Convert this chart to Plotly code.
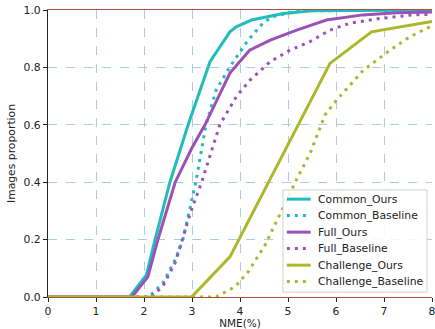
import plotly.graph_objects as go

# ---- data ----
common_ours_x = [0, 1.7, 2.05, 2.23, 2.54, 2.92, 3.375, 3.79, 3.93, 4.24, 4.9, 5.5, 8]
common_ours_y = [0, 0, 0.077, 0.2, 0.4, 0.6, 0.82, 0.924, 0.942, 0.965, 0.988, 0.997, 1.0]

common_base_x = [0, 2.1, 2.4, 2.65, 2.81, 3.08, 3.29, 3.5, 3.78, 4.17, 4.48, 4.67, 5.2, 8]
common_base_y = [0, 0, 0.05, 0.13, 0.2, 0.4, 0.6, 0.72, 0.8, 0.895, 0.955, 0.976, 0.997, 1.0]

full_ours_x = [0, 1.75, 2.08, 2.29, 2.65, 3.0, 3.27, 3.79, 4.2, 4.63, 5.18, 5.8, 6.56, 7.26, 8]
full_ours_y = [0, 0, 0.07, 0.2, 0.4, 0.52, 0.6, 0.78, 0.86, 0.895, 0.93, 0.965, 0.983, 0.99, 0.993]

full_base_x = [0, 2.16, 2.4, 2.65, 2.8, 2.96, 3.2, 3.58, 3.93, 4.21, 4.63, 5.04, 5.46, 5.875, 6.29, 6.9, 7.6, 8]
full_base_y = [0, 0, 0.04, 0.12, 0.2, 0.29, 0.4, 0.6, 0.70, 0.756, 0.82, 0.86, 0.89, 0.93, 0.954, 0.97, 0.983, 0.985]

chal_ours_x = [0, 2.99, 3.79, 5.875, 6.74, 8]
chal_ours_y = [0, 0, 0.14, 0.814, 0.924, 0.96]

chal_base_x = [0, 3.5, 3.9, 4.17, 4.52, 4.87, 5.18, 5.46, 5.77, 6.01, 6.57, 7.125, 7.54, 8]
chal_base_y = [0, 0, 0.036, 0.088, 0.18, 0.30, 0.41, 0.50, 0.634, 0.686, 0.79, 0.86, 0.907, 0.945]

x_ticks = [0, 1, 2, 3, 4, 5, 6, 7, 8]
y_ticks = [0.0, 0.2, 0.4, 0.6, 0.8, 1.0]
y_tick_labels = ["0.0", "0.2", "0.4", "0.6", "0.8", "1.0"]

TEAL = "#22bcbc"
PURPLE = "#9a52b8"
OLIVE = "#aab82a"
DOT = "3px,5px"

series = [
    ("Common_Ours", common_ours_x, common_ours_y, TEAL, "solid"),
    ("Common_Baseline", common_base_x, common_base_y, TEAL, DOT),
    ("Full_Ours", full_ours_x, full_ours_y, PURPLE, "solid"),
    ("Full_Baseline", full_base_x, full_base_y, PURPLE, DOT),
    ("Challenge_Ours", chal_ours_x, chal_ours_y, OLIVE, "solid"),
    ("Challenge_Baseline", chal_base_x, chal_base_y, OLIVE, DOT),
]

FONT = "DejaVu Sans"
fig = go.Figure()
for name, xs, ys, col, dash in series:
    fig.add_trace(go.Scatter(x=xs, y=ys, mode="lines", name=name, showlegend=False,
                             line=dict(color=col, width=3, dash=dash)))

# ---- hand-built legend (matplotlib-style compact spacing) ----
shapes = [dict(type="rect", xref="x domain", yref="y domain",
               x0=0.612, x1=0.987, y0=0.017, y1=0.373,
               fillcolor="rgba(255,255,255,0.85)", line=dict(color="#d0d0d0", width=1),
               layer="above")]
annotations = []
row_y = [0.341, 0.284, 0.226, 0.169, 0.111, 0.054]
for (name, xs, ys, col, dash), ry in zip(series, row_y):
    shapes.append(dict(type="line", xref="x domain", yref="y domain",
                       x0=0.622, x1=0.684, y0=ry, y1=ry,
                       line=dict(color=col, width=3, dash=dash), layer="above"))
    annotations.append(dict(xref="x domain", yref="y domain", x=0.698, y=ry,
                            text=name, showarrow=False, xanchor="left", yanchor="middle",
                            font=dict(family=FONT, size=10.8, color="#222")))

fig.update_layout(
    width=435, height=329,
    margin=dict(l=48, r=3, t=10, b=32),
    paper_bgcolor="white", plot_bgcolor="white",
    font=dict(family=FONT, size=10, color="#222"),
    showlegend=False,
    shapes=shapes,
    annotations=annotations,
    xaxis=dict(range=[0, 8], tickvals=x_ticks, ticks="outside", ticklen=4,
               tickcolor="#222", showline=True, linecolor="#a8503a", linewidth=1.2,
               mirror=True, showgrid=True, gridcolor="#a9cde2", griddash="dash",
               gridwidth=1, zeroline=False, ticklabeloverflow="allow",
               tickfont=dict(size=10.8), automargin=False,
               title=dict(text="NME(%)", font=dict(size=10.5), standoff=3)),
    yaxis=dict(range=[0, 1], tickvals=y_ticks, ticktext=y_tick_labels,
               ticks="outside", ticklen=4, tickcolor="#222", showline=True,
               linecolor="#222", linewidth=1.2, showgrid=True, gridcolor="#a9cde2",
               griddash="dash", gridwidth=1, zeroline=False,
               tickfont=dict(size=10.8), automargin=False,
               title=dict(text="Images proportion", font=dict(size=10.8), standoff=5)),
)

fig.write_html("out.html", config={"displayModeBar": False},
               post_script="document.body.style.margin='0';")
